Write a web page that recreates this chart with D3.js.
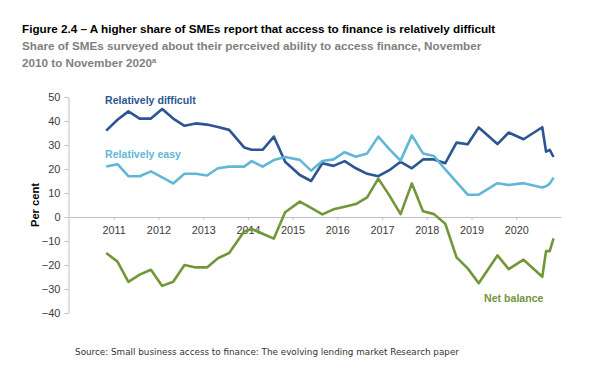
<!DOCTYPE html>
<html>
<head>
<meta charset="utf-8">
<script src="https://cdn.jsdelivr.net/npm/d3@7"></script>
<style>
  body { margin: 0; background: #fff; }
  svg { display: block; font-family: "Liberation Sans", Arial, sans-serif; }
</style>
</head>
<body>
<div class="chart"></div>
<script>
// Survey waves (month of fieldwork)
const surveyDates = ["2010-11","2011-02","2011-05","2011-08","2011-11","2012-02","2012-05","2012-08",
    "2012-11","2013-02","2013-05","2013-08","2013-12","2014-02","2014-05","2014-08","2014-11",
    "2015-03","2015-06","2015-09","2015-12","2016-03","2016-06","2016-09","2016-12","2017-03",
    "2017-06","2017-09","2017-12","2018-03","2018-06","2018-09","2018-12","2019-03","2019-08",
    "2019-11","2020-03","2020-08","2020-09","2020-10","2020-11"];

// Per cent of SMEs
const relativelyDifficult = [36, 40.5, 44, 41, 41, 45, 41, 38, 39, 38.5, 37.5, 36.3, 29, 28, 28, 33.5,
    23, 17.5, 15, 22.4, 21.3, 23.3, 20.3, 18, 17, 19.5, 23, 20.3, 24, 24, 22.4, 31, 30.3, 37.3,
    30.4, 35.2, 32.4, 37.4, 27.2, 28, 25];
const relativelyEasy = [21, 22, 17, 17, 19, 16.5, 14, 18, 18, 17.3, 20.3, 21, 21, 23.3, 21, 23.7,
    25, 23.8, 19.3, 23.3, 24, 27, 25.1, 26.5, 33.5, 28.3, 23.5, 34, 26.5, 25.4, 19.8, 14.5, 9.3,
    9.3, 14.1, 13.3, 14.1, 12.3, 12.8, 13.9, 16.4];
const netBalance = [-15, -18.6, -27, -24, -22, -28.7, -27, -20, -21, -21, -17.2, -15, -6, -5, -7, -9,
    2, 6.4, 3.8, 1.1, 3.2, 4.3, 5.4, 8.2, 16, 9, 1.2, 14, 2.4, 1.2, -2.8, -16.8, -21.4, -27.6,
    -16, -21.7, -17.8, -24.9, -14.2, -14.2, -8.9];

const yearTicks = [2011, 2012, 2013, 2014, 2015, 2016, 2017, 2018, 2019, 2020];
const yTicks = [-40, -30, -20, -10, 0, 10, 20, 30, 40, 50];

const seriesList = [
    { name: "Relatively difficult", values: relativelyDifficult, color: "#2c5592", lx: 105, ly: 103.5 },
    { name: "Relatively easy", values: relativelyEasy, color: "#62b6d7", lx: 105, ly: 157.5 },
    { name: "Net balance", values: netBalance, color: "#72973a", lx: 484, ly: 301.5 }
];

const width = 607, height = 365;
const parseMonth = d3.timeParse("%Y-%m");
const dates = surveyDates.map(parseMonth);

const svg = d3.select(".chart").append("svg")
    .attr("width", width)
    .attr("height", height);

svg.append("rect").attr("width", width).attr("height", height).attr("fill", "#fff");

// Title and subtitle
svg.append("text")
    .attr("x", 22).attr("y", 32.5)
    .attr("font-size", 11.7).attr("font-weight", "bold").attr("fill", "#000")
    .text("Figure 2.4 – A higher share of SMEs report that access to finance is relatively difficult");

const sub = svg.append("text")
    .attr("x", 22).attr("y", 50)
    .attr("font-size", 11.7).attr("font-weight", "bold").attr("fill", "#7f7f7f");
sub.append("tspan").text("Share of SMEs surveyed about their perceived ability to access finance, November");
sub.append("tspan").attr("x", 22).attr("dy", 16.5).text("2010 to November 2020");
sub.append("tspan").attr("font-size", 7.5).attr("dy", -4).text("a");

// Scales
const x = d3.scaleTime()
    .domain([new Date(2010, 0, 1), new Date(2021, 0, 1)])
    .range([69, 561]);

const y = d3.scaleLinear()
    .domain([-40, 50])
    .range([313, 97]);

// Y axis
const yAxis = svg.append("g")
    .attr("transform", "translate(68.5,0)")
    .call(d3.axisLeft(y).tickValues(yTicks).tickSize(4).tickSizeOuter(0).tickPadding(4));
yAxis.select(".domain").attr("stroke", "#bfbfbf");
yAxis.selectAll(".tick line").attr("stroke", "#bfbfbf");
yAxis.selectAll("text")
    .attr("font-family", "Liberation Sans, Arial, sans-serif")
    .attr("font-size", 11).attr("fill", "#3a3a3a");

// X axis at zero
const xAxis = svg.append("g")
    .attr("transform", `translate(0,${y(0)})`)
    .call(d3.axisBottom(x)
        .tickValues(yearTicks.map(yr => new Date(yr, 0, 1)))
        .tickFormat(d3.timeFormat("%Y"))
        .tickSize(3).tickSizeOuter(0).tickPadding(6));
xAxis.select(".domain").attr("stroke", "#bfbfbf");
xAxis.selectAll(".tick line").attr("stroke", "#bfbfbf");
xAxis.selectAll("text")
    .attr("font-family", "Liberation Sans, Arial, sans-serif")
    .attr("font-size", 10.8).attr("fill", "#3a3a3a");

// Axis title
svg.append("text")
    .attr("transform", "translate(39,205) rotate(-90)")
    .attr("text-anchor", "middle")
    .attr("font-size", 11.2).attr("font-weight", "bold").attr("fill", "#000")
    .text("Per cent");

// Lines
const line = d3.line()
    .x((d, i) => x(dates[i]))
    .y(d => y(d));

seriesList.forEach(s => {
    svg.append("path")
        .datum(s.values)
        .attr("fill", "none")
        .attr("stroke", s.color)
        .attr("stroke-width", 2.6)
        .attr("stroke-linejoin", "round")
        .attr("d", line);

    svg.append("text")
        .attr("x", s.lx).attr("y", s.ly)
        .attr("font-size", 10.6).attr("font-weight", "bold")
        .attr("fill", s.color)
        .text(s.name);
});

// Source
svg.append("text")
    .attr("x", 267).attr("y", 355)
    .attr("text-anchor", "middle")
    .attr("font-family", "DejaVu Sans, Verdana, sans-serif")
    .attr("font-size", 8.8).attr("fill", "#333")
    .text("Source: Small business access to finance: The evolving lending market Research paper");
</script>
</body>
</html>
